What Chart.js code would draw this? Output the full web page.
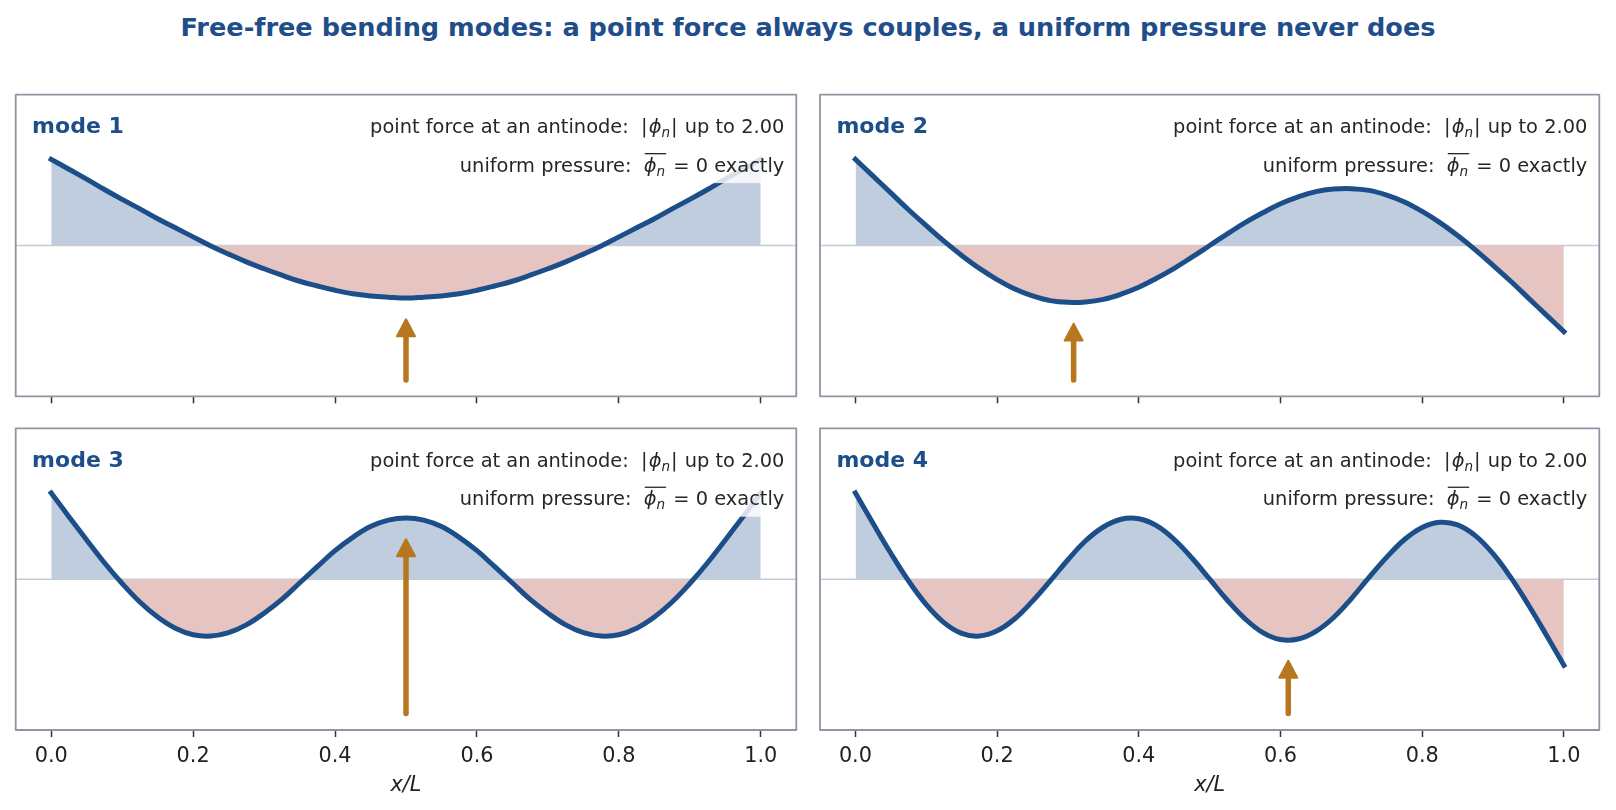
<!DOCTYPE html>
<html><head><meta charset="utf-8">
<script src="https://cdn.jsdelivr.net/npm/chart.js@4.4.1/dist/chart.umd.min.js"></script>
<style>
html,body{margin:0;padding:0;background:#fff;}
body{width:1616px;height:810px;position:relative;overflow:hidden;font-family:'DejaVu Sans';}
#title{position:absolute;left:0;top:14px;width:1616px;text-align:center;font-weight:bold;font-size:25.6px;font-family:'DejaVu Sans';line-height:27px;color:#1f4e8a;white-space:nowrap;}
.pn{position:absolute;}
</style></head><body>
<div id="title">Free-free bending modes: a point force always couples, a uniform pressure never does</div>
<div class="pn" style="left:0;top:0;width:808px;height:420px"><canvas id="c0" width="808" height="420"></canvas></div>
<div class="pn" style="left:808px;top:0;width:808px;height:420px"><canvas id="c1" width="808" height="420"></canvas></div>
<div class="pn" style="left:0;top:420px;width:808px;height:390px"><canvas id="c2" width="808" height="390"></canvas></div>
<div class="pn" style="left:808px;top:420px;width:808px;height:390px"><canvas id="c3" width="808" height="390"></canvas></div>
<script>
// ---- data ----
const X_POS = [0.000,0.025,0.050,0.075,0.100,0.125,0.150,0.175,0.200,0.225,0.250,0.275,0.300,0.325,0.350,0.375,0.400,0.425,0.450,0.475,0.500,
               0.525,0.550,0.575,0.600,0.625,0.650,0.675,0.700,0.725,0.750,0.775,0.800,0.825,0.850,0.875,0.900,0.925,0.950,0.975,1.000];
const MODE_1 = [2.00,1.77,1.54,1.30,1.07,0.85,0.62,0.41,0.20,-0.01,-0.20,-0.38,-0.54,-0.69,-0.83,-0.94,-1.04,-1.12,-1.17,-1.20,-1.22,
                -1.20,-1.17,-1.12,-1.04,-0.94,-0.83,-0.69,-0.54,-0.38,-0.20,-0.01,0.20,0.41,0.62,0.85,1.07,1.30,1.54,1.77,2.00];
const MODE_2 = [2.00,1.61,1.22,0.83,0.46,0.10,-0.23,-0.53,-0.79,-1.01,-1.17,-1.28,-1.32,-1.31,-1.25,-1.13,-0.97,-0.76,-0.53,-0.27,0.00,
                0.27,0.53,0.76,0.97,1.13,1.25,1.31,1.32,1.28,1.17,1.01,0.79,0.53,0.23,-0.10,-0.46,-0.83,-1.22,-1.61,-2.00];
const MODE_3 = [2.00,1.45,0.91,0.38,-0.10,-0.53,-0.88,-1.14,-1.29,-1.32,-1.24,-1.06,-0.79,-0.47,-0.09,0.29,0.66,0.97,1.22,1.37,1.42,
                1.37,1.22,0.97,0.66,0.29,-0.09,-0.47,-0.79,-1.06,-1.24,-1.32,-1.29,-1.14,-0.88,-0.53,-0.10,0.38,0.91,1.45,2.00];
const MODE_4 = [2.00,1.29,0.60,-0.04,-0.59,-1.01,-1.26,-1.32,-1.20,-0.92,-0.51,-0.04,0.45,0.89,1.21,1.39,1.40,1.24,0.92,0.49,0.00,
                -0.49,-0.92,-1.24,-1.40,-1.39,-1.21,-0.89,-0.45,0.04,0.51,0.92,1.20,1.32,1.26,1.01,0.59,0.04,-0.60,-1.29,-2.00];
const MODE_LABELS = ['mode 1','mode 2','mode 3','mode 4'];
const FORCE_X   = [0.500, 0.308, 0.500, 0.611];
const FORCE_AMP = [-1.22, -1.32, 1.42, -1.40];
const X_TICKS = [0.0,0.2,0.4,0.6,0.8,1.0];
const LINE1_TEXT = ['point force at an antinode:  ', '|', 'ϕ', 'n', '|', ' up to 2.00'];
const LINE2_TEXT = ['uniform pressure:  ', 'ϕ', 'n', ' = 0', ' exactly'];
const X_TITLE = 'x/L';

const MODES = [MODE_1, MODE_2, MODE_3, MODE_4];
const ARROW_FROM = -3.12;   // data units where arrow tail sits
const ARROW_GAP = 0.47;     // arrow tip stops this far below/above curve

// ---- styles ----
const LINE = '#1c4f8a';
const FILL_POS = '#bfcddf';
const FILL_NEG = '#e5c4c1';
const ARROW = '#b8761f';
const FRAME = '#8e96a3';
const ZERO = '#c6cbd3';
const TEXT = '#262626';
Chart.defaults.font.family = "'DejaVu Sans'";
Chart.defaults.font.size = 20.8;
Chart.defaults.color = '#222';

function segFont(s, fs){ return (s.it ? 'italic ' : '') + (s.sub ? fs*0.7 : fs) + "px 'DejaVu Sans'"; }
function drawSegs(ctx, segs, xRight, y, fs, box){
  let w = 0; const items = [];
  for (const s of segs){ ctx.font = segFont(s, fs); const m = ctx.measureText(s.t).width; items.push({s, x:w, w:m}); w += m + (s.gap || 0); }
  const x0 = xRight - w;
  if (box){
    ctx.save(); ctx.fillStyle = 'rgba(255,255,255,0.82)';
    ctx.fillRect(x0 - 4, y - fs*0.98 - 3, w + 8, fs*1.26 + 9);
    ctx.restore();
  }
  ctx.fillStyle = TEXT; ctx.textAlign = 'left'; ctx.textBaseline = 'alphabetic';
  let olStart = null, olEnd = null;
  for (const it of items){
    ctx.font = segFont(it.s, fs);
    ctx.fillText(it.s.t, x0 + it.x, y + (it.s.sub ? fs*0.2 : 0));
    if (it.s.ol){ if (olStart === null) olStart = x0 + it.x + 1; olEnd = x0 + it.x + it.w; }
  }
  if (olStart !== null){
    ctx.save(); ctx.strokeStyle = TEXT; ctx.lineWidth = 1.3;
    ctx.beginPath(); ctx.moveTo(olStart, y - fs*0.93); ctx.lineTo(olEnd + 1, y - fs*0.93); ctx.stroke(); ctx.restore();
  }
}

function panelPlugin(idx){
  return {
    id: 'panel' + idx,
    beforeDatasetsDraw(chart){
      const {ctx, chartArea:a} = chart; const y0 = chart.scales.y.getPixelForValue(0);
      ctx.save(); ctx.strokeStyle = ZERO; ctx.lineWidth = 1.5;
      ctx.beginPath(); ctx.moveTo(a.left, y0); ctx.lineTo(a.right, y0); ctx.stroke(); ctx.restore();
    },
    afterDatasetsDraw(chart){
      const {ctx, chartArea:a} = chart; const xs = chart.scales.x, ys = chart.scales.y;
      const fs = 19.4;
      ctx.save();
      const l1 = [{t:LINE1_TEXT[0]},{t:LINE1_TEXT[1],gap:1},{t:LINE1_TEXT[2],it:1},{t:LINE1_TEXT[3],it:1,sub:1,gap:1},{t:LINE1_TEXT[4],gap:1},{t:LINE1_TEXT[5]}];
      const l2 = [{t:LINE2_TEXT[0]},{t:LINE2_TEXT[1],it:1,ol:1},{t:LINE2_TEXT[2],it:1,sub:1,ol:1,gap:2},{t:LINE2_TEXT[3]},{t:LINE2_TEXT[4]}];
      drawSegs(ctx, l1, a.right - 12, a.top + 38.6, fs, true);
      drawSegs(ctx, l2, a.right - 12, a.top + 77, fs, true);
      ctx.font = "bold 22px 'DejaVu Sans'"; ctx.fillStyle = LINE; ctx.textAlign = 'left'; ctx.textBaseline = 'alphabetic';
      ctx.fillText(MODE_LABELS[idx], a.left + 16.4, a.top + 38.6);
      // arrow
      const px = xs.getPixelForValue(FORCE_X[idx]);
      const yTail = ys.getPixelForValue(ARROW_FROM);
      const amp = FORCE_AMP[idx];
      const yTip = ys.getPixelForValue(amp - ARROW_GAP);
      ctx.strokeStyle = ARROW; ctx.fillStyle = ARROW;
      ctx.lineWidth = 5.5; ctx.lineCap = 'round';
      ctx.beginPath(); ctx.moveTo(px, yTail); ctx.lineTo(px, yTip + 14); ctx.stroke();
      ctx.lineWidth = 2; ctx.lineJoin = 'round';
      ctx.beginPath(); ctx.moveTo(px, yTip + 1); ctx.lineTo(px - 9, yTip + 18); ctx.lineTo(px + 9, yTip + 18); ctx.closePath();
      ctx.fill(); ctx.stroke();
      // frame
      ctx.strokeStyle = FRAME; ctx.lineWidth = 1.8;
      ctx.strokeRect(a.left, a.top, a.right - a.left, a.bottom - a.top);
      ctx.restore();
    }
  };
}

function makeChart(id, idx, bottomRow, pad){
  const data = X_POS.map((x, k) => ({x: x, y: MODES[idx][k]}));
  return new Chart(document.getElementById(id), {
    type: 'line',
    data: { datasets: [{
      data: data, borderColor: LINE, borderWidth: 5, pointRadius: 0,
      fill: {target: 'origin', above: FILL_POS, below: FILL_NEG},
      tension: 0.4, borderCapStyle: 'square', borderJoinStyle: 'round'
    }]},
    options: {
      responsive: false, animation: false, events: [],
      layout: { padding: pad },
      plugins: { legend: {display: false}, tooltip: {enabled: false}, title: {display: false} },
      scales: {
        x: {
          type: 'linear', min: -0.05, max: 1.05,
          afterBuildTicks: (s) => { s.ticks = X_TICKS.map(v => ({value: v})); },
          ticks: { display: bottomRow, callback: (v) => Number(v).toFixed(1), padding: 7, color: '#222',
                   font: {size: 20.8}, maxRotation: 0, autoSkip: false },
          grid: { drawOnChartArea: false, drawTicks: true, tickLength: 7, tickColor: '#333', tickWidth: 1.5, color: 'rgba(0,0,0,0)' },
          border: { display: false },
          title: { display: bottomRow, text: X_TITLE, color: '#222', font: {size: 20.8, style: 'italic'}, padding: {top: -2.4, bottom: 0} }
        },
        y: { display: false, min: -3.5, max: 3.5 }
      }
    },
    plugins: [panelPlugin(idx)]
  });
}

makeChart('c0', 0, false, {left: 15.7, top: 94.7, right: 11.7, bottom: 16.7});
makeChart('c1', 1, false, {left: 12, top: 94.7, right: 16.7, bottom: 16.7});
makeChart('c2', 2, true,  {left: 15.7, top: 8.3, right: 11.7, bottom: 11.5});
makeChart('c3', 3, true,  {left: 12, top: 8.3, right: 16.7, bottom: 11.5});
</script>
</body></html>
